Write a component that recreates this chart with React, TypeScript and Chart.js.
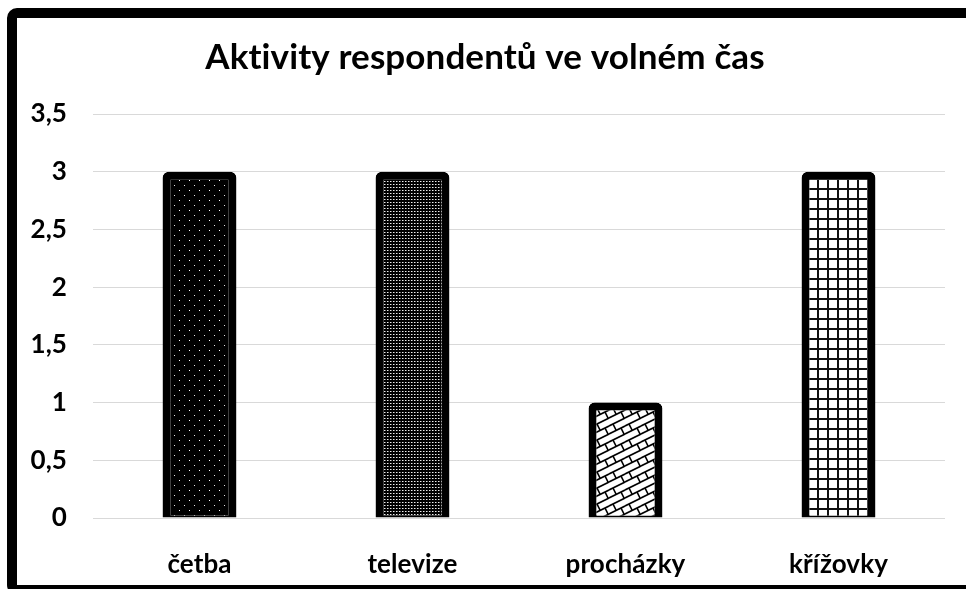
import React, { useEffect, useRef } from "react";
import { Chart, registerables } from "chart.js";

Chart.register(...registerables);

const title = "Aktivity respondentů ve volném čas";
const categories = ["četba", "televize", "procházky", "křížovky"];
const values = [3, 3, 1, 3];
const yMin = 0;
const yMax = 3.5;
const yStep = 0.5;

const FONT = "Lato, 'Open Sans', sans-serif";

function tile(w: number, h: number, draw: (c: CanvasRenderingContext2D) => void) {
  const cv = document.createElement("canvas");
  cv.width = w;
  cv.height = h;
  const c = cv.getContext("2d")!;
  draw(c);
  return cv;
}

function makePatterns(ctx: CanvasRenderingContext2D) {
  const p1 = tile(10, 10, (c) => {
    c.fillStyle = "#000";
    c.fillRect(0, 0, 10, 10);
    c.fillStyle = "#fff";
    c.fillRect(2, 2, 1, 1);
    c.fillStyle = "#e5e5e5";
    c.fillRect(7, 7, 1, 1);
  });
  const p2 = tile(3, 3, (c) => {
    c.fillStyle = "#000";
    c.fillRect(0, 0, 3, 3);
    c.fillStyle = "#eee";
    c.fillRect(1, 1, 1, 1);
    c.fillStyle = "#777";
    c.fillRect(2, 1, 1, 1);
  });
  const W = 16, H = 16;
  const p3 = tile(W, H, (c) => {
    c.fillStyle = "#fff";
    c.fillRect(0, 0, W, H);
    c.strokeStyle = "#000";
    c.lineWidth = 1.6;
    const segs: number[][] = [
      [0, 8, 16, 0],
      [0, 16, 16, 8],
      [4, 6, 7.2, 12.4],
      [12, 10, 15.2, 16.4],
    ];
    for (const dx of [-W, 0, W]) {
      for (const dy of [-H, 0, H]) {
        for (const s of segs) {
          c.beginPath();
          c.moveTo(s[0] + dx, s[1] + dy);
          c.lineTo(s[2] + dx, s[3] + dy);
          c.stroke();
        }
      }
    }
  });
  const p4 = tile(10, 10, (c) => {
    c.fillStyle = "#fff";
    c.fillRect(0, 0, 10, 10);
    c.fillStyle = "#111";
    c.fillRect(0, 0, 2, 10);
    c.fillRect(0, 0, 10, 2);
  });
  return [p1, p2, p3, p4].map((t) => ctx.createPattern(t, "repeat")!);
}

const noLigatures = {
  id: "noLigatures",
  beforeDraw(chart: any) {
    try {
      chart.ctx.letterSpacing = "0.1px";
    } catch (e) {}
  },
};

export default function App() {
  const ref = useRef<HTMLCanvasElement | null>(null);

  useEffect(() => {
    const canvas = ref.current!;
    const ctx = canvas.getContext("2d")!;
    const patterns = makePatterns(ctx);
    const chart = new Chart(canvas, {
      type: "bar",
      data: {
        labels: categories,
        datasets: [
          {
            data: values,
            backgroundColor: patterns as any,
            borderColor: "#000",
            borderWidth: { top: 8, left: 8, right: 8, bottom: 2 } as any,
            borderSkipped: false,
            borderRadius: { topLeft: 6, topRight: 6, bottomLeft: 0, bottomRight: 0 },
            categoryPercentage: 1,
            barPercentage: 0.347,
          },
        ],
      },
      plugins: [noLigatures],
      options: {
        animation: false,
        responsive: false,
        maintainAspectRatio: false,
        layout: { padding: { left: 8, right: 21, top: 0, bottom: 0 } },
        plugins: {
          legend: { display: false },
          tooltip: { enabled: false },
          title: {
            display: true,
            text: title,
            color: "#000",
            font: { family: FONT, size: 35, weight: "bold", lineHeight: 1.2 },
            padding: { top: 19, bottom: 35 },
          },
        },
        scales: {
          x: {
            grid: { display: false },
            border: { display: false },
            ticks: {
              color: "#000",
              padding: 23,
              font: { family: FONT, size: 26, weight: "bold" },
            },
            afterFit: (s: any) => {
              s.height = 67;
            },
          },
          y: {
            min: yMin,
            max: yMax,
            grid: { color: "#d9d9d9", lineWidth: 1, drawTicks: false },
            border: { display: false },
            ticks: {
              stepSize: yStep,
              color: "#000",
              padding: 26,
              font: { family: FONT, size: 26, weight: "bold" },
              callback: (v: any) => String(Number(v)).replace(".", ","),
            },
            afterFit: (s: any) => {
              s.width = 68;
            },
          },
        },
      },
    });
    return () => chart.destroy();
  }, []);

  return (
    <div
      style={{
        position: "fixed",
        left: 0,
        top: 0,
        width: 966,
        height: 589,
        overflow: "hidden",
        background: "#fff",
      }}
    >
      <div
        style={{
          position: "absolute",
          left: 7,
          top: 8,
          width: 1100,
          height: 587,
          boxSizing: "border-box",
          border: "10px solid #000",
          borderRadius: 10,
        }}
      />
      <canvas
        ref={ref}
        width={949}
        height={567}
        style={{ position: "absolute", left: 17, top: 18, width: 949, height: 567 }}
      />
    </div>
  );
}
